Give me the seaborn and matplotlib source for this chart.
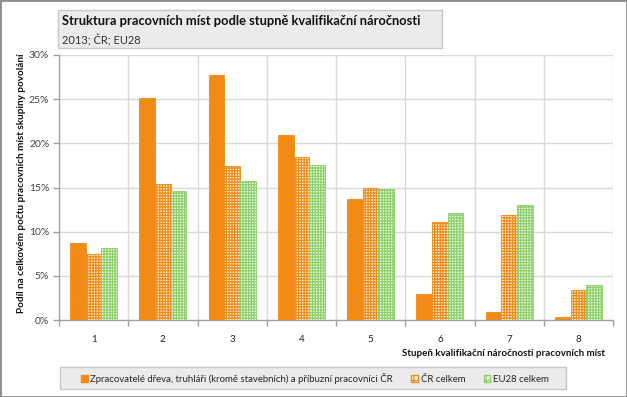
import numpy as np
import pandas as pd
import matplotlib
matplotlib.use('Agg')
import matplotlib.pyplot as plt
from matplotlib.patches import Rectangle, Patch
import seaborn as sns

# values (share in %)
stupne = ['1', '2', '3', '4', '5', '6', '7', '8']
drevo = [8.7, 25.1, 27.7, 21.0, 13.7, 3.0, 0.9, 0.3]
cr_celkem = [7.5, 15.4, 17.4, 18.5, 14.9, 11.1, 11.9, 3.4]
eu28_celkem = [8.1, 14.6, 15.7, 17.6, 14.8, 12.1, 13.0, 4.0]
yticks = [0, 5, 10, 15, 20, 25, 30]

serie = ['Zpracovatelé dřeva, truhláři (kromě stavebních) a příbuzní pracovníci ČR',
         'ČR celkem', 'EU28 celkem']

df = pd.DataFrame({
    'stupen': stupne * 3,
    'podil': drevo + cr_celkem + eu28_celkem,
    'serie': [serie[0]] * 8 + [serie[1]] * 8 + [serie[2]] * 8,
})

orange = '#F28B16'
green = '#8CD169'

sns.set_theme(style='white')
plt.rcParams['font.family'] = ['Lato', 'DejaVu Sans']
plt.rcParams['hatch.linewidth'] = 0.9

fig = plt.figure(figsize=(6.27, 3.97), dpi=100)
ax = fig.add_axes([59/627, 1-320/397, 554/627, 265/397])

sns.barplot(data=df, x='stupen', y='podil', hue='serie', order=stupne,
            hue_order=serie, palette=[orange, 'white', 'white'],
            width=0.68, gap=0, legend=False, ax=ax, zorder=3)

hatch = '++++++'
styles = [(orange, orange, None), ('#FFF6EC', orange, hatch), ('#F2FAEE', green, hatch)]
for cont, (fc, ec, h) in zip(ax.containers, styles):
    for bar in cont:
        bar.set_facecolor(fc)
        bar.set_edgecolor(ec)
        bar.set_linewidth(0.6)
        if h:
            bar.set_hatch(h)

ax.set_xlim(-0.5, 7.5)
ax.set_ylim(0, 30)
ax.set_yticks(yticks)
ax.set_yticklabels([f'{v}%' for v in yticks])
ax.set_xticks(np.arange(-0.5, 8, 1), minor=True)
ax.tick_params(axis='x', which='major', length=0, pad=11, labelsize=7, colors='#222222')
ax.tick_params(axis='x', which='minor', length=4, width=1, color='#A0A0A0', direction='out')
ax.tick_params(axis='y', length=4, width=1, color='#A0A0A0', direction='out',
               labelsize=7.5, colors='#444444', pad=3)
ax.yaxis.set_tick_params(left=True)
ax.xaxis.set_tick_params(which='minor', bottom=True)

ax.grid(False)
for v in yticks[1:]:
    ax.axhline(v, color='#D9D9D9', lw=1, zorder=1)
for v in np.arange(0.5, 8, 1):
    ax.axvline(v, color='#D9D9D9', lw=1, zorder=1)

for s in ['top', 'right']:
    ax.spines[s].set_visible(False)
for s in ['left', 'bottom']:
    ax.spines[s].set_color('#A0A0A0')
    ax.spines[s].set_linewidth(1)

ax.set_xlabel('Stupeň kvalifikační náročnosti pracovních míst', fontsize=7,
              fontweight='bold', color='#111111')
ax.xaxis.set_label_coords(0.985, -0.11)
ax.xaxis.label.set_horizontalalignment('right')
ax.set_ylabel('Podíl na celkovém počtu pracovních míst skupiny povolání', fontsize=7.2,
              fontweight='bold', color='#111111')
ax.yaxis.set_label_coords(-0.06, 0.515)

# title box
fig.patches.append(Rectangle((58/627, 1-48/397), 384/627, 38/397, transform=fig.transFigure,
                             facecolor='#EBEBEB', edgecolor='#C8C8C8', lw=1, zorder=2))
fig.text(62/627, 1-21/397, 'Struktura pracovních míst podle stupně kvalifikační náročnosti',
         fontsize=9.3, fontweight='bold', color='#111111', va='center', zorder=3)
fig.text(62/627, 1-40/397, '2013; ČR; EU28', fontsize=8, color='#333333', va='center', zorder=3)

# legend box
fig.patches.append(Rectangle((60/627, 1-389/397), 506/627, 22/397, transform=fig.transFigure,
                             facecolor='#EBEBEB', edgecolor='#C8C8C8', lw=1, zorder=2))
handles = [Patch(facecolor=orange, edgecolor=orange),
           Patch(facecolor='#FFF6EC', edgecolor=orange, hatch='+++'),
           Patch(facecolor='#F2FAEE', edgecolor=green, hatch='+++')]
fig.legend(handles, serie, loc='center', bbox_to_anchor=(315/627, 1-378/397), ncol=3,
           frameon=False, fontsize=6.9, handlelength=0.7, handleheight=0.7,
           handletextpad=0.3, columnspacing=1.9, borderpad=0)

# outer frame
fig.patches.append(Rectangle((0, 0), 1, 1, transform=fig.transFigure, fill=False,
                             edgecolor='#8C8C8C', lw=2, zorder=5))

fig.savefig('out.png', dpi=100)
